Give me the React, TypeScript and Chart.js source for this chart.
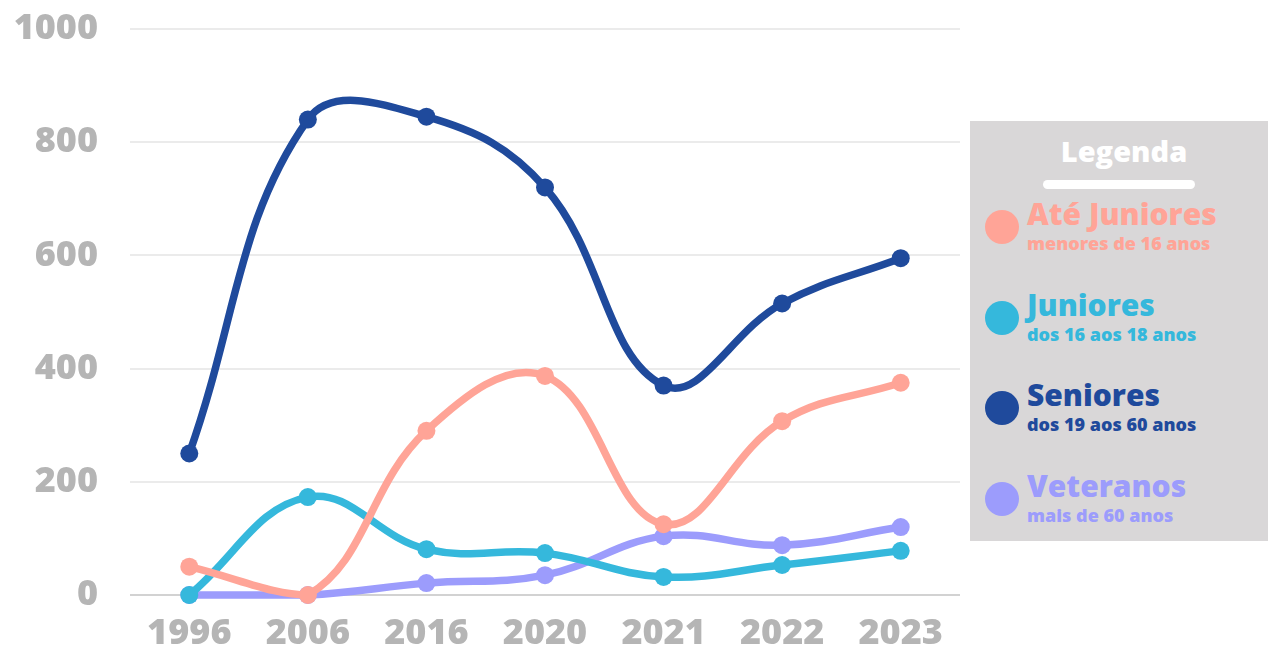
import React, { useEffect, useRef } from "react";
import { Chart, registerables } from "chart.js";

Chart.register(...registerables);

const categories = ["1996", "2006", "2016", "2020", "2021", "2022", "2023"];
const ateJuniores = [50, 0, 290, 387, 125, 307, 375];
const juniores = [0, 173, 81, 74, 32, 53, 78];
const seniores = [250, 840, 845, 720, 370, 515, 595];
const veteranos = [0, 0, 21, 35, 104, 88, 120];
const yTicks = [0, 200, 400, 600, 800, 1000];

const FONT = "'Open Sans', 'Noto Sans', sans-serif";

const series = [
  { label: "Até Juniores", sub: "menores de 16 anos", data: ateJuniores, color: "#FFA497" },
  { label: "Juniores", sub: "dos 16 aos 18 anos", data: juniores, color: "#35B8DC" },
  { label: "Seniores", sub: "dos 19 aos 60 anos", data: seniores, color: "#1F4A9C" },
  { label: "Veteranos", sub: "mais de 60 anos", data: veteranos, color: "#9C9CFC" },
];

export default function App() {
  const ref = useRef<HTMLCanvasElement>(null);

  useEffect(() => {
    if (!ref.current) return;
    const chart = new Chart(ref.current, {
      type: "line",
      data: {
        labels: categories,
        datasets: series.map((s) => ({
          label: s.label,
          data: s.data,
          borderColor: s.color,
          backgroundColor: s.color,
          pointBackgroundColor: s.color,
          pointBorderColor: s.color,
          borderWidth: 7.5,
          pointRadius: 9,
          pointBorderWidth: 0,
          tension: 0.4,
          clip: false as any,
        })),
      },
      options: {
        animation: false,
        responsive: false,
        maintainAspectRatio: false,
        layout: { padding: { top: 29, right: 2, left: 0, bottom: 0 } },
        plugins: { legend: { display: false }, tooltip: { enabled: false } },
        scales: {
          x: {
            offset: true,
            grid: { display: false },
            border: { display: false },
            ticks: {
              color: "#B5B5B5",
              font: { family: FONT, size: 36, weight: "800" as any },
              padding: 9,
              autoSkip: false,
              maxRotation: 0,
            },
            afterFit: (scale: any) => {
              scale.height = 53;
              scale.paddingLeft = 0;
              scale.paddingRight = 0;
            },
          },
          y: {
            min: 0,
            max: 1000,
            afterBuildTicks: (scale: any) => {
              scale.ticks = yTicks.map((v) => ({ value: v }));
            },
            grid: {
              color: (ctx: any) => (ctx.tick && ctx.tick.value === 0 ? "#D2D2D2" : "#EBEBEB"),
              lineWidth: 2,
              drawTicks: false,
            },
            border: { display: false },
            ticks: {
              color: "#B5B5B5",
              font: { family: FONT, size: 36, weight: "800" as any },
              padding: 32,
              callback: (v: any) => String(v),
            },
            afterFit: (scale: any) => {
              scale.width = 130;
              scale.paddingTop = 0;
              scale.paddingBottom = 0;
            },
          },
        },
      },
    });
    return () => chart.destroy();
  }, []);

  return (
    <div style={{ position: "absolute", left: 0, top: 0, width: 1268, height: 648, background: "#fff", fontFamily: FONT }}>
      <canvas ref={ref} width={969} height={648} style={{ position: "absolute", left: 0, top: 0, width: 969, height: 648 }} />
      <div
        style={{
          position: "absolute",
          left: 970,
          top: 121,
          width: 298,
          height: 420,
          background: "#D9D7D8",
        }}
      >
        <div
          style={{
            position: "absolute",
            left: 0,
            width: 308,
            top: 11,
            textAlign: "center",
            color: "#fff",
            fontWeight: 800,
            fontSize: 29,
            lineHeight: "38px",
          }}
        >
          Legenda
        </div>
        <div
          style={{
            position: "absolute",
            left: 73,
            top: 59,
            width: 152,
            height: 9,
            borderRadius: 5,
            background: "#fff",
          }}
        />
        {series.map((s, i) => (
          <div key={s.label} style={{ position: "absolute", left: 0, top: 77 + i * 90.5, width: 298, height: 70 }}>
            <div
              style={{
                position: "absolute",
                left: 15,
                top: 12,
                width: 34,
                height: 34,
                borderRadius: "50%",
                background: s.color,
              }}
            />
            <div
              style={{
                position: "absolute",
                left: 57,
                top: -1,
                color: s.color,
                fontWeight: 800,
                fontSize: 30,
                lineHeight: "34px",
                whiteSpace: "nowrap",
              }}
            >
              {s.label}
            </div>
            <div
              style={{
                position: "absolute",
                left: 57,
                top: 34,
                color: s.color,
                fontWeight: 800,
                fontSize: 18,
                lineHeight: "22px",
                whiteSpace: "nowrap",
              }}
            >
              {s.sub}
            </div>
          </div>
        ))}
      </div>
    </div>
  );
}
